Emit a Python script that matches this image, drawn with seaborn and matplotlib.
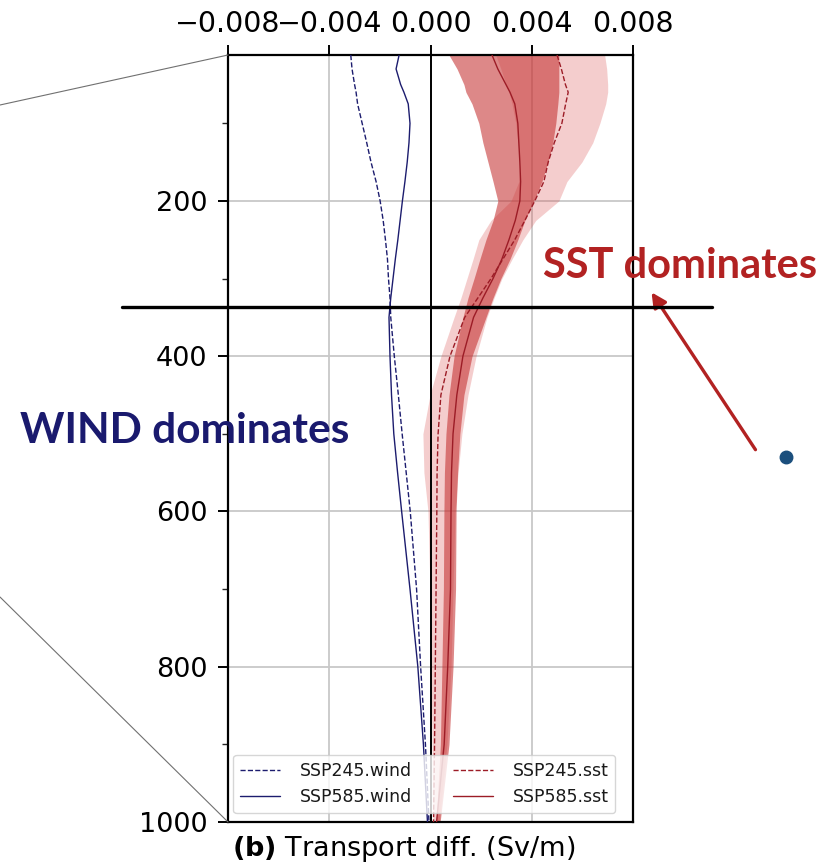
import numpy as np
import pandas as pd
import matplotlib
matplotlib.use("Agg")
import matplotlib.pyplot as plt
import seaborn as sns
from matplotlib.lines import Line2D
from matplotlib.patches import FancyArrowPatch

# ---------------- data ----------------
depth = [12, 30, 50, 60, 75, 100, 125, 150, 175, 200, 225, 250, 275, 300, 325,
         350, 400, 450, 500, 550, 600, 700, 800, 900, 1000]

wind245 = [-0.00315, -0.00310, -0.00300, -0.00294, -0.00288, -0.00270, -0.00252, -0.00235,
           -0.00215, -0.00199, -0.00187, -0.00178, -0.00170, -0.00166, -0.00160, -0.00157,
           -0.00143, -0.00127, -0.00112, -0.00096, -0.00080, -0.00055, -0.00039, -0.00020,
           -0.00006]
wind585 = [-0.00124, -0.00136, -0.00118, -0.00105, -0.00088, -0.00081, -0.00085, -0.00092,
           -0.00101, -0.00111, -0.00120, -0.00129, -0.00139, -0.00148, -0.00157, -0.00164,
           -0.00160, -0.00154, -0.00145, -0.00130, -0.00114, -0.00081, -0.00050, -0.00028,
           -0.00012]
sst245 = [0.00500, 0.00517, 0.00533, 0.00544, 0.00534, 0.00519, 0.00489, 0.00465, 0.00448,
          0.00412, 0.00373, 0.00333, 0.00286, 0.00239, 0.00187, 0.00135, 0.00077, 0.00041,
          0.00030, 0.00026, 0.00025, 0.00022, 0.00019, 0.00016, 0.00012]
sst585 = [0.00243, 0.00266, 0.00298, 0.00314, 0.00333, 0.00345, 0.00349, 0.00353, 0.00356,
          0.00353, 0.00335, 0.00310, 0.00282, 0.00247, 0.00207, 0.00170, 0.00128, 0.00104,
          0.00089, 0.00083, 0.00081, 0.00079, 0.00068, 0.00054, 0.00024]

sst245_lo = [0.00258, 0.00278, 0.00298, 0.00310, 0.00322, 0.00337, 0.00345, 0.00353, 0.00349,
             0.00318, 0.00239, 0.00191, 0.00168, 0.00144, 0.00120, 0.00093, 0.00041, -0.00002,
             -0.00030, -0.00026, -0.00010, -0.00002, 0.00002, 0.00006, 0.00010]
sst245_hi = [0.00688, 0.00696, 0.00700, 0.00700, 0.00692, 0.00669, 0.00641, 0.00598, 0.00539,
             0.00507, 0.00416, 0.00365, 0.00322, 0.00282, 0.00251, 0.00223, 0.00180, 0.00148,
             0.00124, 0.00109, 0.00097, 0.00089, 0.00081, 0.00065, 0.00034]
sst585_lo = [0.00073, 0.00105, 0.00132, 0.00140, 0.00164, 0.00191, 0.00207, 0.00227, 0.00247,
             0.00266, 0.00247, 0.00219, 0.00195, 0.00172, 0.00148, 0.00128, 0.00093, 0.00073,
             0.00061, 0.00055, 0.00053, 0.00051, 0.00045, 0.00039, 0.00022]
sst585_hi = [0.00507, 0.00507, 0.00507, 0.00507, 0.00503, 0.00495, 0.00483, 0.00464, 0.00440,
             0.00408, 0.00373, 0.00345, 0.00314, 0.00278, 0.00247, 0.00219, 0.00164, 0.00132,
             0.00116, 0.00107, 0.00101, 0.00099, 0.00089, 0.00073, 0.00038]

series_names = ["SSP245.wind", "SSP585.wind", "SSP245.sst", "SSP585.sst"]
xticks = [-0.008, -0.004, 0.0, 0.004, 0.008]
xticklabels = ["\u22120.008", "\u22120.004", "0.000", "0.004", "0.008"]
yticks = [200, 400, 600, 800, 1000]
yminor = [100, 300, 500, 700, 900]

# ---------------- styling ----------------
sns.set_style("white")
plt.rcParams["font.family"] = ["DejaVu Sans"]

NAVY = "#1c1c6e"
RED = "#9c1c26"

fig = plt.figure(figsize=(8.25, 8.65), dpi=100)
L, R, T, B = 228, 633, 55, 822
W, H = 825, 865
ax = fig.add_axes([L / W, 1 - B / H, (R - L) / W, (B - T) / H])

# bands
ax.fill_betweenx(depth, sst245_lo, sst245_hi, color=(0.85, 0.30, 0.30), alpha=0.28, lw=0, zorder=2)
ax.fill_betweenx(depth, sst585_lo, sst585_hi, color=(0.77, 0.18, 0.18), alpha=0.57, lw=0, zorder=2.1)

df = pd.DataFrame({"depth": depth, "SSP245.wind": wind245, "SSP585.wind": wind585,
                   "SSP245.sst": sst245, "SSP585.sst": sst585})
styles = {"SSP245.wind": (NAVY, "--"), "SSP585.wind": (NAVY, "-"),
          "SSP245.sst": (RED, "--"), "SSP585.sst": (RED, "-")}
for name in series_names:
    c, ls = styles[name]
    sns.lineplot(data=df, x=name, y="depth", orient="y", ax=ax, color=c,
                 linestyle=ls, lw=1.0, label=name, legend=False, zorder=3)

ax.axvline(0, color="black", lw=1.4, zorder=2.5)

ax.set_xlim(-0.008, 0.008)
ax.set_ylim(1000, 12)
ax.xaxis.tick_top()
ax.set_xticks(xticks)
ax.set_xticklabels(xticklabels)
ax.set_yticks(yticks)
ax.set_yticks(yminor, minor=True)
ax.set_xlabel("")
ax.set_ylabel("")
ax.grid(True, which="major", color="#c8c8c8", lw=1.3, zorder=0)
ax.set_axisbelow(True)
for s in ax.spines.values():
    s.set_color("black")
    s.set_linewidth(1.6)
ax.tick_params(axis="x", which="major", direction="out", length=7, width=1.4,
               labelsize=20.5, pad=5, top=True, bottom=False, colors="black")
ax.tick_params(axis="y", which="major", direction="out", length=7, width=1.4,
               labelsize=19.5, pad=8, left=True, colors="black")
ax.tick_params(axis="y", which="minor", direction="out", length=4, width=1.0, left=True)

handles = [Line2D([], [], color=styles[n][0], ls=styles[n][1], lw=1.0) for n in series_names]
ax.legend(handles, series_names, ncol=2, loc="lower center", fontsize=12.5,
          framealpha=0.8, edgecolor="#cccccc", fancybox=True, labelcolor="#1a1a1a",
          handlelength=2.3, columnspacing=2.4, handletextpad=1.1, borderaxespad=0.5,
          bbox_to_anchor=(0.485, 0.0))

fig.text(232 / W, 1 - 849 / H, r"$\mathbf{(b)}$ Transport diff. (Sv/m)", fontsize=19.5,
         ha="left", va="center", color="black")

# ---------------- slide annotations ----------------
fig.add_artist(Line2D([0, L / W], [1 - 105 / H, 1 - T / H], transform=fig.transFigure,
                      color="#707070", lw=0.8))
fig.add_artist(Line2D([0, L / W], [1 - 597 / H, 1 - B / H], transform=fig.transFigure,
                      color="#707070", lw=0.8))
fig.add_artist(Line2D([122 / W, 712 / W], [1 - 307 / H, 1 - 307 / H], transform=fig.transFigure,
                      color="black", lw=2.4))
fig.text(543 / W, 1 - 278 / H, "SST dominates", family=["Lato", "DejaVu Sans"],
         fontweight="bold", fontsize=30, color="#b22222", ha="left", va="baseline")
fig.text(20 / W, 1 - 443 / H, "WIND dominates", family=["Lato", "DejaVu Sans"],
         fontweight="bold", fontsize=30.5, color="#1a1a6e", ha="left", va="baseline")
fig.add_artist(FancyArrowPatch((757 / W, 1 - 452 / H), (650 / W, 1 - 290 / H),
                               transform=fig.transFigure, arrowstyle="-|>",
                               mutation_scale=22, color="#b22222", lw=2.4))
fig.add_artist(Line2D([786 / W], [1 - 457 / H], transform=fig.transFigure, marker="o",
                      markersize=9, color="#1b4f7d", lw=0))

fig.savefig("out.png", dpi=100)
